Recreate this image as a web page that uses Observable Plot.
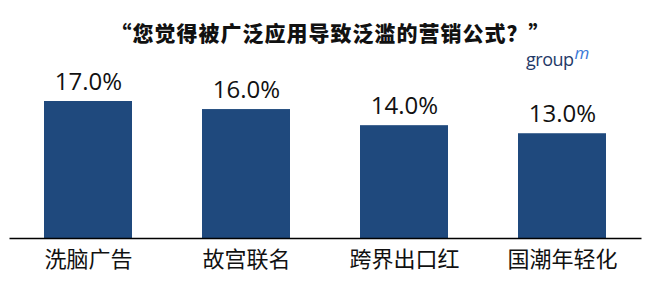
<!DOCTYPE html>
<html><head><meta charset="utf-8">
<script src="https://cdn.jsdelivr.net/npm/d3@7"></script>
<script src="https://cdn.jsdelivr.net/npm/@observablehq/plot@0.6"></script>
<style>
body{margin:0;background:#fff;}
#wrap{position:relative;width:661px;height:291px;overflow:hidden;}
#title{position:absolute;left:0;width:661px;top:17px;text-align:center;font-family:"Noto Sans CJK SC";font-weight:900;font-size:21px;letter-spacing:1px;color:#111;}
#logo{position:absolute;left:526px;top:41px;font-family:"Open Sans", sans-serif;font-size:18px;color:#1f3a68;letter-spacing:-0.5px;}
#logo sup{color:#3a78d8;font-style:italic;font-size:17px;vertical-align:7px;margin-left:1px;}
</style></head>
<body><div id="wrap"><div id="title">“您觉得被广泛应用导致泛滥的营销公式？”</div><div id="logo">group<sup>m</sup></div></div>
<script>
const categories = ["洗脑广告","故宫联名","跨界出口红","国潮年轻化"];
const values = [17.0, 16.0, 14.0, 13.0];
const data = categories.map((c,i)=>({c, v: values[i]}));
const chart = Plot.plot({
  width: 661, height: 291,
  marginLeft: 9.5, marginRight: 19.5, marginTop: 101, marginBottom: 53,
  x: {domain: categories, paddingInner: 0.44, paddingOuter: 0.22, axis: null},
  y: {domain: [0, 17], axis: null},
  marks: [
    Plot.barY(data, {x: "c", y: "v", fill: "#1f497d"}),
    Plot.ruleY([0], {stroke: "#000", strokeWidth: 1.5}),
    Plot.text(data, {x: "c", y: "v", text: d => d.v.toFixed(1) + "%", dy: -19, fontSize: 24, fill: "#111", fontFamily: "Open Sans"}),
    Plot.text(data, {x: "c", text: "c", frameAnchor: "bottom", lineAnchor: "middle", dy: 21, fontSize: 22, fill: "#111", fontFamily: "Noto Sans CJK SC"})
  ]
});
chart.style.position = "absolute"; chart.style.left = "0"; chart.style.top = "0";
document.getElementById("wrap").prepend(chart);
</script></body></html>
